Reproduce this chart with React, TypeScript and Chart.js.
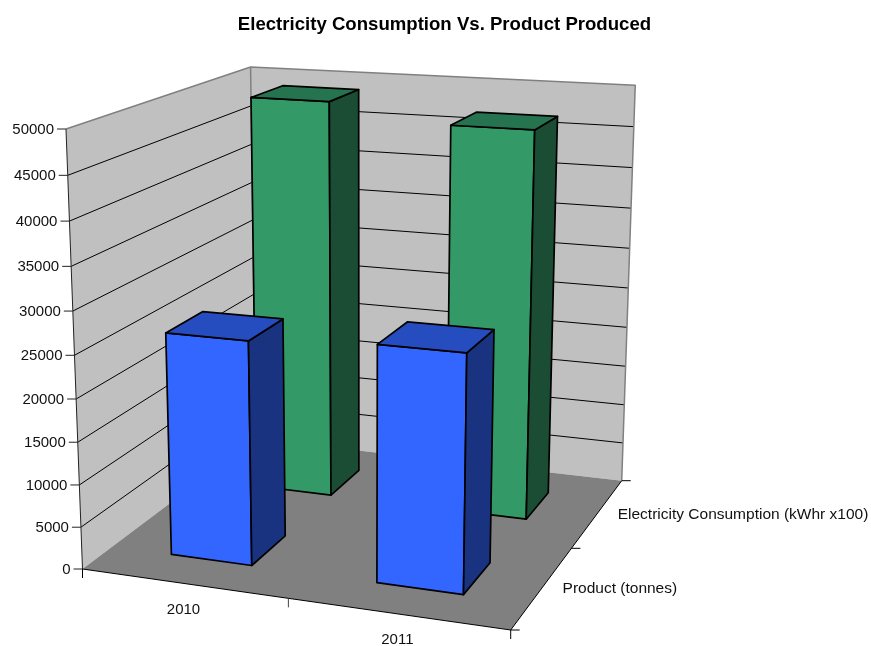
import React, { useEffect, useRef } from "react";
import { Chart, registerables } from "chart.js";

Chart.register(...registerables);

const years = ["2010", "2011"];
const productTonnes = [26300, 27300];
const electricityKwh = [49000, 47000];
const seriesNames = ["Product (tonnes)", "Electricity Consumption (kWhr x100)"];
const valueMax = 50000;
const valueStep = 5000;

// Front-to-back share of one depth row taken up by a column.
const BAR_SHARE = 0.4;

// Projective camera: (width, depth, height, 1) in unit-cube coordinates to homogeneous canvas pixels.
const CAMERA = [
  [390.48, 222.59, -20.17, 82.5],
  [14.47, -45.66, -447.17, 569],
  [-0.07386, 0.19267, -0.0556, 1],
];

const project = (u: number, v: number, t: number): [number, number] => {
  const h = CAMERA.map((r) => r[0] * u + r[1] * v + r[2] * t + r[3]);
  return [h[0] / h[2], h[1] / h[2]];
};

const FONT = '15.5px "Liberation Sans", Arial, sans-serif';
const TICK_FONT = '15px "Liberation Sans", Arial, sans-serif';
const TEXT = "#111111";
const WALL = "#c0c0c0";
const FLOOR = "#808080";
const EDGE = "#808080";
const INK = "#000000";
const TICK = 9;

const BOX_COLOURS = [
  { front: "#3366ff", side: "#1a3380", top: "#264dbf" },
  { front: "#339966", side: "#1a4d33", top: "#267350" },
];

type Pt = [number, number];

const poly = (ctx: CanvasRenderingContext2D, pts: Pt[], fill?: string, stroke?: string, width = 1) => {
  ctx.beginPath();
  pts.forEach((p, i) => (i ? ctx.lineTo(p[0], p[1]) : ctx.moveTo(p[0], p[1])));
  if (fill) {
    ctx.closePath();
    ctx.fillStyle = fill;
    ctx.fill();
  }
  if (stroke) {
    ctx.strokeStyle = stroke;
    ctx.lineWidth = width;
    ctx.stroke();
  }
};

const line = (ctx: CanvasRenderingContext2D, a: Pt, b: Pt, stroke: string, width = 1) =>
  poly(ctx, [a, b], undefined, stroke, width);

const label = (
  ctx: CanvasRenderingContext2D,
  text: string,
  x: number,
  y: number,
  align: CanvasTextAlign,
  font = FONT,
) => {
  ctx.font = font;
  ctx.fillStyle = TEXT;
  ctx.textAlign = align;
  ctx.textBaseline = "middle";
  ctx.fillText(text, x, y);
};

// Walls, floor, grid and axis furniture, placed by the chart's own scales.
const roomPlugin = {
  id: "room",
  beforeDatasetsDraw(chart: any) {
    const ctx: CanvasRenderingContext2D = chart.ctx;
    const yScale = chart.scales.y;
    const xScale = chart.scales.x;
    const area = chart.chartArea;
    const heightOf = (value: number) => (area.bottom - yScale.getPixelForValue(value)) / area.height;

    ctx.save();
    ctx.lineJoin = "round";
    poly(ctx, [project(0, 0, 0), project(0, 1, 0), project(0, 1, 1), project(0, 0, 1)], WALL);
    poly(ctx, [project(0, 1, 0), project(1, 1, 0), project(1, 1, 1), project(0, 1, 1)], WALL);
    poly(ctx, [project(0, 0, 0), project(1, 0, 0), project(1, 1, 0), project(0, 1, 0)], FLOOR);

    yScale.ticks.forEach((tick: any) => {
      const t = heightOf(tick.value);
      if (tick.value > 0 && tick.value < valueMax) {
        poly(ctx, [project(0, 0, t), project(0, 1, t), project(1, 1, t)], undefined, INK, 1);
      }
      const at = project(0, 0, t);
      line(ctx, [at[0] - TICK, at[1]], at, "#222222", 1);
      label(ctx, String(tick.value), at[0] - TICK - 3, at[1] + 1, "right", TICK_FONT);
    });

    poly(ctx, [project(0, 0, 1), project(0, 1, 1), project(1, 1, 1), project(1, 1, 0)], undefined, EDGE, 1.5);
    line(ctx, project(0, 1, 0), project(0, 1, 1), EDGE, 1.5);
    line(ctx, project(0, 0, 0), project(0, 0, 1), "#222222", 1);
    poly(ctx, [project(0, 0, 0), project(1, 0, 0), project(1, 1, 0)], undefined, INK, 1);

    // Width axis: end and middle ticks plus the category names.
    [0, 0.5, 1].forEach((u) => {
      const at = project(u, 0, 0);
      line(ctx, at, [at[0], at[1] + TICK], u === 0.5 ? "#444444" : INK, 1);
    });
    years.forEach((name, i) => {
      const u = (xScale.getPixelForValue(i) - area.left) / area.width;
      const at = project(u, 0, 0);
      label(ctx, name, at[0], at[1] + 26, "center", TICK_FONT);
    });

    // Depth axis: ticks and series names.
    [0, 0.5, 1].forEach((v) => {
      const at = project(1, v, 0);
      line(ctx, at, [at[0] + TICK, at[1]], INK, 1);
    });
    chart.data.datasets.forEach((ds: any, row: number) => {
      const at = project(1, (row + 0.5) / chart.data.datasets.length, 0);
      label(ctx, ds.label, at[0] + 20, at[1] + 1.5, "left");
    });
    ctx.restore();
  },
};

// Replaces each flat bar with a box built from the bar element's own geometry.
const boxPlugin = {
  id: "boxes",
  beforeDatasetDraw(chart: any, args: any) {
    const ctx: CanvasRenderingContext2D = chart.ctx;
    const area = chart.chartArea;
    const row = args.index;
    const rows = chart.data.datasets.length;
    const colours = BOX_COLOURS[row];
    const v0 = (row + (1 - BAR_SHARE) / 2) / rows;
    const v1 = (row + (1 + BAR_SHARE) / 2) / rows;

    ctx.save();
    ctx.lineJoin = "round";
    args.meta.data.forEach((el: any) => {
      const u0 = (el.x - el.width / 2 - area.left) / area.width;
      const u1 = (el.x + el.width / 2 - area.left) / area.width;
      const t = (area.bottom - el.y) / area.height;
      const front: Pt[] = [project(u0, v0, 0), project(u1, v0, 0), project(u1, v0, t), project(u0, v0, t)];
      const side: Pt[] = [project(u1, v0, 0), project(u1, v1, 0), project(u1, v1, t), project(u1, v0, t)];
      const top: Pt[] = [project(u0, v0, t), project(u1, v0, t), project(u1, v1, t), project(u0, v1, t)];
      [
        [front, colours.front],
        [side, colours.side],
        [top, colours.top],
      ].forEach(([pts, fill]: any) => {
        poly(ctx, pts, fill);
        ctx.closePath();
        ctx.strokeStyle = INK;
        ctx.lineWidth = 1.7;
        ctx.stroke();
      });
    });
    ctx.restore();
    return false;
  },
};

export default function App() {
  const ref = useRef<HTMLCanvasElement>(null);

  useEffect(() => {
    document.body.style.margin = "0";
    const chart = new Chart(ref.current as HTMLCanvasElement, {
      type: "bar",
      data: {
        labels: years,
        datasets: [
          { label: seriesNames[0], data: productTonnes, backgroundColor: BOX_COLOURS[0].front },
          { label: seriesNames[1], data: electricityKwh, backgroundColor: BOX_COLOURS[1].front },
        ],
      },
      options: {
        responsive: false,
        animation: false,
        events: [],
        layout: { padding: { left: 18 } },
        datasets: { bar: { barPercentage: BAR_SHARE, categoryPercentage: 1 } },
        scales: {
          x: { display: false, stacked: true },
          y: { display: false, min: 0, max: valueMax, ticks: { stepSize: valueStep } },
        },
        plugins: {
          legend: { display: false },
          tooltip: { enabled: false },
          title: {
            display: true,
            text: "Electricity Consumption Vs. Product Produced",
            color: "#000000",
            font: { family: '"Liberation Sans", Arial, sans-serif', size: 18.6, weight: "bold" },
            padding: { top: 14, bottom: 10 },
          },
        },
      },
      plugins: [roomPlugin, boxPlugin],
    } as any);
    return () => chart.destroy();
  }, []);

  return <canvas ref={ref} width={871} height={646} style={{ display: "block" }} />;
}
